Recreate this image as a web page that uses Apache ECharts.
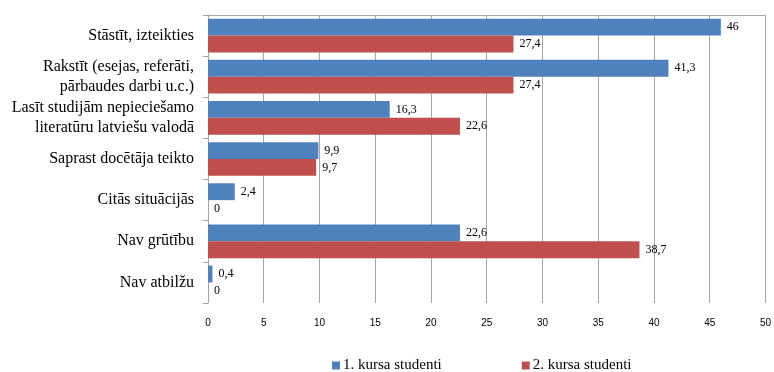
<!DOCTYPE html>
<html>
<head>
<meta charset="utf-8">
<script src="https://cdn.jsdelivr.net/npm/echarts@6/dist/echarts.min.js"></script>
<style>
  html, body { margin: 0; padding: 0; background: #fff; }
  #chart { width: 774px; height: 372px; }
</style>
</head>
<body>
<div id="chart"></div>
<script>
const categories = [
  'Stāstīt, izteikties',
  'Rakstīt (esejas, referāti,\npārbaudes darbi u.c.)',
  'Lasīt studijām nepieciešamo\nliteratūru latviešu valodā',
  'Saprast docētāja teikto',
  'Citās situācijās',
  'Nav grūtību',
  'Nav atbilžu'
];
const firstYear = [46, 41.3, 16.3, 9.9, 2.4, 22.6, 0.4];
const secondYear = [27.4, 27.4, 22.6, 9.7, 0, 38.7, 0];
const seriesNames = ['1. kursa studenti', '2. kursa studenti'];

const serif = '"Liberation Serif", "DejaVu Serif", serif';

// value label with comma decimal
const labelOpt = {
  show: true,
  position: 'right',
  distance: 6,
  color: '#000',
  fontFamily: serif,
  fontSize: 12,
  formatter: p => String(p.value).replace('.', ',')
};

const option = {
  animation: false,
  color: ['#4F81BD', '#C0504D'],
  grid: { left: 208, right: 8, top: 15, bottom: 69 },
  legend: {
    left: 327,
    top: 353,
    itemWidth: 8,
    itemHeight: 8,
    itemGap: 80,
    icon: 'rect',
    textStyle: { fontFamily: serif, fontSize: 15, color: '#000', padding: [0, 0, 0, -2] },
    data: seriesNames
  },
  xAxis: [
    {
      type: 'value',
      min: 0,
      max: 50,
      interval: 5,
      axisLine: { show: false },
      axisTick: { show: false },
      splitLine: { show: true, lineStyle: { color: '#a6a6a6', width: 1 } },
      axisLabel: { color: '#000', fontSize: 10, margin: 15, fontFamily: 'Arial, "Liberation Sans", sans-serif' }
    },
    {
      type: 'value',
      position: 'top',
      min: 0,
      max: 50,
      axisLine: { show: true, lineStyle: { color: '#a6a6a6' } },
      axisTick: { show: false },
      axisLabel: { show: false },
      splitLine: { show: false }
    }
  ],
  yAxis: {
    type: 'category',
    inverse: true,
    data: categories,
    axisLine: { show: true, lineStyle: { color: '#a6a6a6' } },
    axisTick: { show: true, length: 5, lineStyle: { color: '#a6a6a6' } },
    axisLabel: {
      color: '#000',
      fontFamily: serif,
      fontSize: 16,
      lineHeight: 20,
      margin: 14,
      align: 'right'
    }
  },
  series: [
    {
      name: seriesNames[0],
      type: 'bar',
      data: firstYear,
      barGap: '0%',
      barCategoryGap: '18%',
      label: labelOpt
    },
    {
      name: seriesNames[1],
      type: 'bar',
      data: secondYear,
      barGap: '0%',
      barCategoryGap: '18%',
      label: labelOpt
    }
  ]
};

echarts.init(document.getElementById('chart')).setOption(option);
</script>
</body>
</html>
